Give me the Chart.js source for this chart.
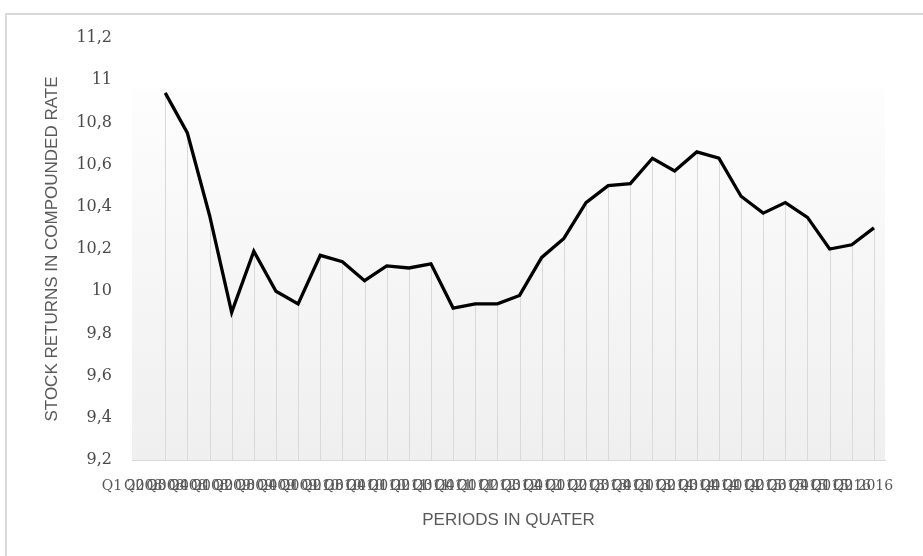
<!DOCTYPE html>
<html>
<head>
<meta charset="utf-8">
<script src="https://cdn.jsdelivr.net/npm/chart.js@4/dist/chart.umd.min.js"></script>
<style>
  body { margin: 0; background: #fff; overflow: hidden; }
  #frame { position: absolute; left: 5px; top: 13px; width: 1000px; height: 600px; border: 2px solid #d9d9d9; }
  #wrap { position: absolute; left: 0; top: 0; width: 923px; height: 556px; }
</style>
</head>
<body>
<div id="frame"></div>
<div id="wrap"><canvas id="graf" width="923" height="556"></canvas></div>
<script>
// kvartal (första platsen är tom i originalet)
const quarters = [
  "Q1 2008", "Q2 2008", "Q3 2008", "Q4 2008",
  "Q1 2009", "Q2 2009", "Q3 2009", "Q4 2009",
  "Q1 2010", "Q2 2010", "Q3 2010", "Q4 2010",
  "Q1 2011", "Q2 2011", "Q3 2011", "Q4 2011",
  "Q1 2012", "Q2 2012", "Q3 2012", "Q4 2012",
  "Q1 2013", "Q2 2013", "Q3 2013", "Q4 2013",
  "Q1 2014", "Q2 2014", "Q3 2014", "Q4 2014",
  "Q1 2015", "Q2 2015", "Q3 2015", "Q4 2015",
  "Q1 2016", "Q2 2016"
];

const returns = [
  null, 10.94, 10.75, 10.36, 9.90, 10.19, 10.00, 9.94, 10.17,
  10.14, 10.05, 10.12, 10.11, 10.13, 9.92, 9.94, 9.94, 9.98,
  10.16, 10.25, 10.42, 10.50, 10.51, 10.63, 10.57, 10.66, 10.63,
  10.45, 10.37, 10.42, 10.35, 10.20, 10.22, 10.30
];

const yMin = 9.2;
const yMax = 11.2;
const yStep = 0.2;
const bgTop = 10.96; // där den grå ytan börjar

// grå bakgrund + lodlinjer ner till axeln
const dropLines = {
  id: 'dropLines',
  beforeDatasetsDraw(chart) {
    const { ctx, chartArea, scales } = chart;
    const top = scales.y.getPixelForValue(bgTop);
    const g = ctx.createLinearGradient(0, top, 0, chartArea.bottom);
    g.addColorStop(0, '#fdfdfd');
    g.addColorStop(1, '#efefef');
    ctx.save();
    ctx.fillStyle = g;
    ctx.fillRect(chartArea.left, top, chartArea.right - chartArea.left, chartArea.bottom - top);

    ctx.strokeStyle = '#d9d9d9';
    ctx.lineWidth = 1;
    const meta = chart.getDatasetMeta(0);
    meta.data.forEach((p, i) => {
      if (returns[i] == null) return;
      const x = Math.round(p.x) + 0.5;
      ctx.beginPath();
      ctx.moveTo(x, p.y);
      ctx.lineTo(x, chartArea.bottom);
      ctx.stroke();
    });
    ctx.restore();
  }
};

const ctx = document.getElementById('graf').getContext('2d');
new Chart(ctx, {
  type: 'line',
  data: {
    labels: quarters,
    datasets: [{
      data: returns,
      borderColor: '#000',
      borderWidth: 3.3,
      pointRadius: 0,
      tension: 0,
      fill: false
    }]
  },
  options: {
    responsive: false,
    animation: false,
    devicePixelRatio: 1,
    layout: { padding: { left: 42, top: 38, right: 38, bottom: 20 } },
    plugins: { legend: { display: false }, tooltip: { enabled: false } },
    scales: {
      x: {
        offset: true,
        grid: { display: false, drawTicks: false },
        border: { display: true, color: '#d9d9d9', width: 1 },
        ticks: {
          autoSkip: false,
          maxRotation: 0,
          minRotation: 0,
          labelOffset: -11,
          padding: 18,
          color: '#595959',
          font: { family: 'DejaVu Serif', size: 14 }
        },
        title: {
          display: true,
          text: 'PERIODS IN QUATER',
          color: '#595959',
          font: { family: 'Liberation Sans', size: 17 },
          padding: { top: 0, bottom: 5 }
        },
        afterFit(scale) { scale.height = 76; }
      },
      y: {
        min: yMin,
        max: yMax,
        grid: { display: false, drawTicks: false },
        border: { display: false },
        ticks: {
          stepSize: yStep,
          padding: 20,
          color: '#4a4a4a',
          font: { family: 'DejaVu Serif', size: 16 },
          callback: v => String(Math.round(v * 10) / 10).replace('.', ',')
        },
        title: {
          display: true,
          text: 'STOCK RETURNS IN COMPOUNDED RATE',
          color: '#595959',
          font: { family: 'Liberation Sans', size: 17 },
          padding: { top: 0, bottom: 0 }
        },
        afterFit(scale) { scale.width = 90; }
      }
    }
  },
  plugins: [dropLines]
});
</script>
</body>
</html>
